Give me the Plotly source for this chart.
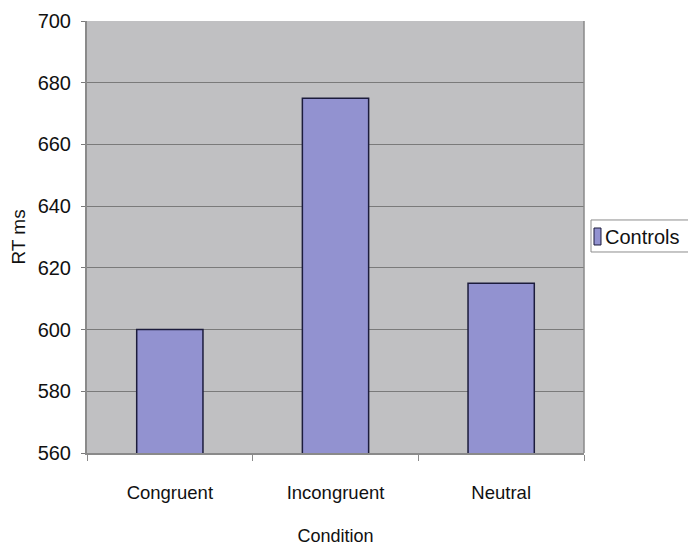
import plotly.graph_objects as go

categories = ["Congruent", "Incongruent", "Neutral"]
controls = [600, 675, 615]
y_ticks = [560, 580, 600, 620, 640, 660, 680, 700]
series_name = "Controls"

FONT = "Liberation Sans, Arial, sans-serif"
BAR_COLOR = "#9292d0"
BAR_LINE = "#1c1c3c"

fig = go.Figure()
fig.add_trace(go.Bar(
    x=categories, y=controls, name=series_name,
    marker=dict(color=BAR_COLOR, line=dict(color=BAR_LINE, width=1.5)),
    width=0.4, showlegend=False,
))

fig.update_layout(
    width=688, height=550,
    margin=dict(l=87, r=104, t=21, b=97, autoexpand=False),
    paper_bgcolor="white", plot_bgcolor="#c0c0c2",
    font=dict(family=FONT, size=18, color="#111111"),
)
fig.update_yaxes(range=[560, 700], tickvals=y_ticks, showgrid=True,
                 gridcolor="#7a7a7a", gridwidth=1,
                 showline=True, linecolor="#8a8a8a", linewidth=2,
                 ticks="outside", ticklen=4, tickcolor="#7a7a7a",
                 tickfont=dict(size=20), ticklabelstandoff=6,
                 title=dict(text="RT ms", standoff=7, font=dict(size=19)),
                 zeroline=False)
fig.update_xaxes(showline=True, linecolor="#8a8a8a", linewidth=2,
                 ticks="outside", tickson="boundaries", ticklen=6, tickcolor="#8a8a8a",
                 tickfont=dict(size=18.5), ticklabelstandoff=22,
                 title=dict(text="Condition", standoff=27, font=dict(size=18)))
fig.add_shape(type="line", xref="paper", yref="paper", x0=1, x1=1, y0=0, y1=1,
              line=dict(color="#8a8a8a", width=1.5))

# legend box (drawn manually so it sits like the reference, running off the right edge)
fig.add_shape(type="rect", xref="paper", yref="paper",
              x0=1.0141, x1=1.25, y0=0.4653, y1=0.5394,
              line=dict(color="#8c8c8c", width=1), fillcolor="white", layer="above")
fig.add_shape(type="rect", xref="paper", yref="paper",
              x0=1.0201, x1=1.0342, y0=0.4815, y1=0.5208,
              line=dict(color=BAR_LINE, width=1), fillcolor=BAR_COLOR, layer="above")
fig.add_annotation(xref="paper", yref="paper", x=1.0382, y=0.5,
                   xanchor="left", yanchor="middle", showarrow=False,
                   text=series_name, font=dict(size=20, color="#111111"))
fig.write_html("out.html")
